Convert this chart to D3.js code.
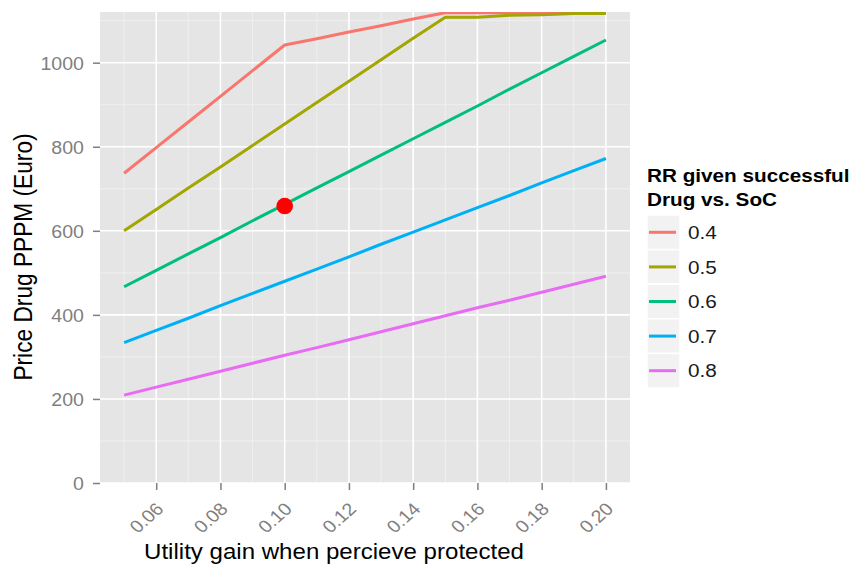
<!DOCTYPE html>
<html><head><meta charset="utf-8">
<script src="https://cdn.jsdelivr.net/npm/d3@7"></script>
<style>body{margin:0;background:#fff;} svg{display:block;font-family:"Liberation Sans",Arial,sans-serif;}</style>
</head><body><svg id="chart" width="854" height="569"></svg>
<script>
// ---- data ----
const xValues = [0.05,0.06,0.07,0.08,0.09,0.10,0.11,0.12,0.13,0.14,0.15,0.16,0.17,0.18,0.19,0.20];
const seriesNames = ["0.4","0.5","0.6","0.7","0.8"];
const rr04 = [737,798,859,920,981,1042,1057,1073,1088,1104,1119,1119,1119,1119,1119,1119];
const rr05 = [600,651,702,752,803,854,905,956,1007,1058,1108,1108,1113,1114,1117,1117];
const rr06 = [467,506,545,584,624,663,702,741,780,819,858,897,937,976,1015,1054];
const rr07 = [334,363,392,422,451,480,509,538,568,597,626,655,684,714,743,772];
const rr08 = [209,228,247,266,285,304,322,341,360,379,398,417,435,454,473,492];
const highlightX = [0.10];
const highlightY = [659];
const xTicks = [0.06,0.08,0.10,0.12,0.14,0.16,0.18,0.20];
const xMinor = [0.05,0.07,0.09,0.11,0.13,0.15,0.17,0.19];
const yTicks = [0,200,400,600,800,1000];
const yMinor = [100,300,500,700,900,1100];
const xTitle = "Utility gain when percieve protected";
const yTitle = "Price Drug PPPM (Euro)";
const legendTitle = ["RR given successful","Drug vs. SoC"];

// ---- styles / layout ----
const colors = ["#F8766D","#A3A500","#00BF7D","#00B0F6","#E76BF3"];
const SX = 1.12;
const P = {l:100, r:630, t:12, b:483};
const seriesValues = [rr04, rr05, rr06, rr07, rr08];

const svg = d3.select("#chart");
const x = d3.scaleLinear().domain([0.0425, 0.2075]).range([P.l, P.r]);
const y = d3.scaleLinear().domain([0, 1120.6]).range([P.b, P.t]);

svg.append("defs").append("clipPath").attr("id","clip")
  .append("rect").attr("x",P.l).attr("y",P.t).attr("width",P.r-P.l).attr("height",P.b-P.t);

// panel
svg.append("rect").attr("x",P.l).attr("y",P.t).attr("width",P.r-P.l).attr("height",P.b-P.t).attr("fill","#e5e5e5");
const grid = svg.append("g");
grid.selectAll(".hmin").data(yMinor).join("line")
  .attr("x1",P.l).attr("x2",P.r).attr("y1",d=>y(d)).attr("y2",d=>y(d))
  .attr("stroke","#f2f2f2").attr("stroke-width",0.8);
grid.selectAll(".vmin").data(xMinor).join("line")
  .attr("y1",P.t).attr("y2",P.b).attr("x1",d=>x(d)).attr("x2",d=>x(d))
  .attr("stroke","#f2f2f2").attr("stroke-width",0.8);
grid.selectAll(".hmaj").data(yTicks).join("line")
  .attr("x1",P.l).attr("x2",P.r).attr("y1",d=>y(d)).attr("y2",d=>y(d))
  .attr("stroke","#ffffff").attr("stroke-width",1.6);
grid.selectAll(".vmaj").data(xTicks).join("line")
  .attr("y1",P.t).attr("y2",P.b).attr("x1",d=>x(d)).attr("x2",d=>x(d))
  .attr("stroke","#ffffff").attr("stroke-width",1.6);

// lines
const line = d3.line().x((d,i)=>x(xValues[i])).y(d=>y(d));
const lines = svg.append("g").attr("clip-path","url(#clip)");
seriesValues.forEach((vals,k)=>{
  lines.append("path").datum(vals).attr("d",line)
    .attr("fill","none").attr("stroke",colors[k]).attr("stroke-width",3)
    .attr("stroke-linejoin","round");
});
lines.selectAll("circle").data(highlightX).join("circle")
  .attr("cx",d=>x(d)).attr("cy",(d,i)=>y(highlightY[i])).attr("r",8.3).attr("fill","#ff0000");

// axes
const yAxis = svg.append("g").attr("transform",`translate(${P.l},0)`)
  .call(d3.axisLeft(y).tickValues(yTicks).tickSize(7).tickFormat(d3.format("d")));
yAxis.select(".domain").remove();
yAxis.selectAll(".tick line").attr("stroke","#7f7f7f").attr("stroke-width",1.5);
yAxis.selectAll(".tick text").attr("x",null).attr("dy","0.36em")
  .attr("transform",`translate(-16,0) scale(${SX},1)`)
  .attr("text-anchor","end").attr("fill","#7f7f7f").attr("font-size",17.5)
  .attr("font-family","Liberation Sans, Arial, sans-serif");

const xAxis = svg.append("g").attr("transform",`translate(0,${P.b})`)
  .call(d3.axisBottom(x).tickValues(xTicks).tickSize(7).tickFormat(d3.format(".2f")));
xAxis.select(".domain").remove();
xAxis.selectAll(".tick line").attr("stroke","#7f7f7f").attr("stroke-width",1.5);
xAxis.selectAll(".tick text").attr("y",null).attr("dy",null)
  .attr("transform",`translate(8,27) scale(${SX},1) rotate(-45)`)
  .attr("text-anchor","end").attr("fill","#7f7f7f").attr("font-size",17.5)
  .attr("font-family","Liberation Sans, Arial, sans-serif");

// titles
svg.append("text").attr("transform",`translate(334,559) scale(${SX},1)`)
  .attr("text-anchor","middle").attr("font-size",21.5).attr("fill","#000").text(xTitle);
svg.append("text").attr("transform",`translate(32,257) scale(${SX},1) rotate(-90)`)
  .attr("text-anchor","middle").attr("font-size",22.7).attr("fill","#000").text(yTitle);

// legend
const lg = svg.append("g");
lg.selectAll(".lt").data(legendTitle).join("text")
  .attr("transform",(d,i)=>`translate(647,${182+i*23.5}) scale(${SX},1)`)
  .attr("font-size",18.5).attr("font-weight","bold").attr("fill","#000").text(d=>d);
const key = lg.selectAll(".key").data(seriesNames).join("g")
  .attr("transform",(d,i)=>`translate(647,${215+i*34.6})`);
key.append("rect").attr("width",33).attr("height",34.6).attr("fill","#f2f2f2")
  .attr("stroke","#ffffff").attr("stroke-width",1.5);
key.append("line").attr("x1",2).attr("x2",29).attr("y1",17.3).attr("y2",17.3)
  .attr("stroke",(d,i)=>colors[i]).attr("stroke-width",3);
key.append("text").attr("transform",`translate(41,17.3) scale(${SX},1)`).attr("dy","0.36em")
  .attr("font-size",18.5).attr("fill","#1a1a1a").text(d=>d);
</script></body></html>
